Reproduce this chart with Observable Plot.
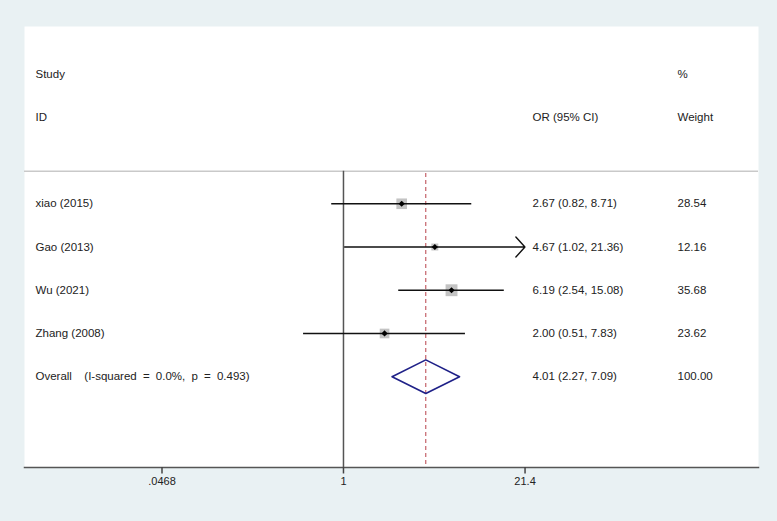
<!DOCTYPE html>
<html><head><meta charset="utf-8">
<script src="https://cdn.jsdelivr.net/npm/d3@7"></script>
<script src="https://cdn.jsdelivr.net/npm/@observablehq/plot@0.6"></script>
<style>body{margin:0;background:#e9f1f3} .overall-label text{word-spacing:3px}</style>
</head><body><div id="chart"></div>
<script>
// ---- data ----
const studies = ["xiao (2015)", "Gao (2013)", "Wu (2021)", "Zhang (2008)"];
const orValues = [2.67, 4.67, 6.19, 2.00];
const ciLower = [0.82, 1.02, 2.54, 0.51];
const ciUpper = [8.71, 21.36, 15.08, 7.83];
const weights = [28.54, 12.16, 35.68, 23.62];
const clippedUpper = [false, true, false, false];
const overallLabel = "Overall  (I-squared = 0.0%, p = 0.493)";
const overallOR = 4.01, overallLo = 2.27, overallHi = 7.09, overallWeight = 100.00;
const tickValues = [0.0468, 1, 21.4];
const tickLabels = [".0468", "1", "21.4"];
const headerRow1 = {study: "Study", est: "", weight: "%"};
const headerRow2 = {study: "ID", est: "OR (95% CI)", weight: "Weight"};

// ---- layout (rows) ----
const rows = studies.map((s, i) => ({
  study: s, or: orValues[i], lo: ciLower[i], hi: ciUpper[i], w: weights[i],
  clipped: clippedUpper[i], row: i + 3
}));
const overallRow = 7;
const headers = [{...headerRow1, row: 0}, {...headerRow2, row: 1}];
const sepRow = 2.25, bottomRow = 9.1, topRow = -1.1, tickLen = 0.15;
const diamondHalf = 0.39;
const diamond = [
  {x: overallLo, y: overallRow}, {x: overallOR, y: overallRow - diamondHalf},
  {x: overallHi, y: overallRow}, {x: overallOR, y: overallRow + diamondHalf},
  {x: overallLo, y: overallRow}
];
const textRows = [
  ...headers,
  ...rows.map(d => ({study: d.study, est: `${d.or.toFixed(2)} (${d.lo.toFixed(2)}, ${d.hi.toFixed(2)})`, weight: d.w.toFixed(2), row: d.row})),
  {study: "", est: `${overallOR.toFixed(2)} (${overallLo.toFixed(2)}, ${overallHi.toFixed(2)})`, weight: overallWeight.toFixed(2), row: overallRow}
];
const tickData = tickValues.map((v, i) => ({v, label: tickLabels[i]}));

const font = "'Liberation Sans', Arial, Helvetica, sans-serif";
const txt = {y: "row", frameAnchor: "left", textAnchor: "start", fontSize: 11.5, fill: "#222", fontFamily: font};

const chart = Plot.plot({
  width: 777, height: 521,
  marginLeft: 24, marginRight: 19, marginTop: 26, marginBottom: 54,
  style: {background: "#e9f1f3", fontFamily: font},
  x: {type: "log", domain: [0.0046, 1099], axis: null},
  y: {domain: [topRow, bottomRow], reverse: true, axis: null},
  r: {type: "sqrt", domain: [0, d3.max(weights)], range: [0, 6.7]},
  marks: [
    Plot.frame({fill: "white", stroke: "none"}),
    Plot.ruleY([sepRow], {stroke: "#c9c9c9", strokeWidth: 1.5}),
    Plot.ruleX([1], {y1: sepRow, y2: bottomRow, stroke: "#555", strokeWidth: 1.5}),
    Plot.ruleX([overallOR], {y1: sepRow + 0.05, y2: bottomRow, stroke: "#b8424a", strokeWidth: 1, strokeDasharray: "4,3"}),
    Plot.dot(rows, {x: "or", y: "row", r: "w", symbol: "square", fill: "#c3c3c3", stroke: "none"}),
    Plot.ruleY(rows.filter(d => !d.clipped), {y: "row", x1: "lo", x2: "hi", stroke: "#111", strokeWidth: 1.5}),
    Plot.arrow(rows.filter(d => d.clipped), {x1: "lo", x2: "hi", y1: "row", y2: "row", stroke: "#111", strokeWidth: 1.4, headAngle: 96, headLength: 14.5}),
    Plot.dot(rows, {x: "or", y: "row", r: 2.8, symbol: "diamond2", fill: "#000", stroke: "none"}),
    Plot.line(diamond, {x: "x", y: "y", stroke: "#1f2188", strokeWidth: 1.6}),
    Plot.text(textRows, {...txt, text: "study", dx: 11}),
    Plot.text([{label: overallLabel, row: overallRow}], {...txt, text: "label", dx: 11, className: "overall-label"}),
    Plot.text(textRows, {...txt, text: "est", dx: 508}),
    Plot.text(textRows, {...txt, text: "weight", dx: 653}),
    Plot.frame({anchor: "bottom", stroke: "#555", strokeWidth: 1.5}),
    Plot.ruleX(tickData, {x: "v", y1: bottomRow, y2: bottomRow + tickLen, stroke: "#444", strokeWidth: 1.5}),
    Plot.text(tickData, {x: "v", text: "label", frameAnchor: "bottom", dy: 17, fontSize: 11, fill: "#222", fontFamily: font})
  ]
});
document.getElementById("chart").appendChild(chart);
</script>
</body></html>
